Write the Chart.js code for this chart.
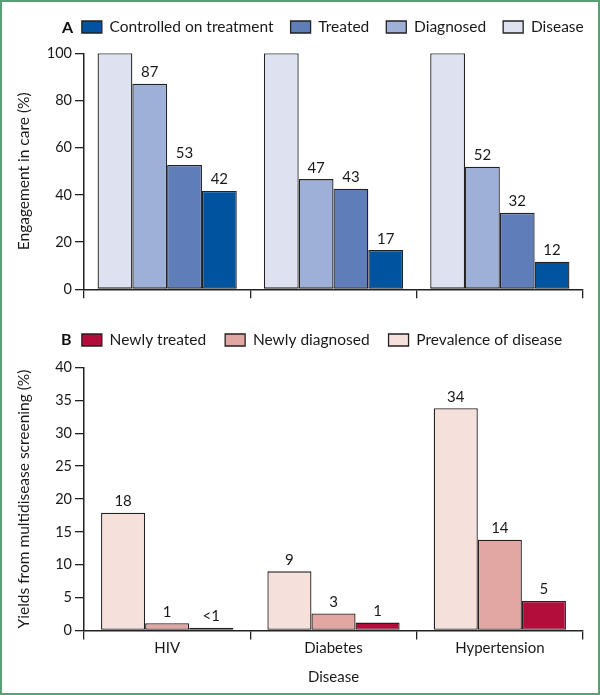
<!DOCTYPE html>
<html><head><meta charset="utf-8">
<script src="https://cdn.jsdelivr.net/npm/chart.js@4.4.1/dist/chart.umd.min.js"></script>
<style>
html,body{margin:0;padding:0;background:#fff;}
#wrap{position:relative;width:600px;height:695px;overflow:hidden;font-family:Lato,sans-serif;}
#frame{position:absolute;left:0;top:0;width:600px;height:695px;box-sizing:border-box;border:2px solid #5b9f77;pointer-events:none;z-index:5}
.panel{position:absolute;left:0;width:600px;}
#boxA{top:0;height:310px}
#boxB{top:315px;height:378px}
.letter{position:absolute;font:bold 16px Lato, sans-serif;line-height:16px;color:#111;z-index:4}
</style></head>
<body><div id="wrap">
<div class="panel" id="boxA"><canvas id="chartA" width="600" height="310"></canvas></div>
<div class="panel" id="boxB"><canvas id="chartB" width="600" height="378"></canvas></div>
<div class="letter" style="left:62px;top:19px">A</div>
<div class="letter" style="left:61px;top:331px">B</div>
<div id="frame"></div>
</div>
<script>
// Categories
const diseases = ['HIV', 'Diabetes', 'Hypertension'];

// Panel A: engagement in care (%)
const diseaseA = [100, 100, 100];
const diagnosedA = [87.1, 46.7, 51.9];
const treatedA = [52.7, 42.6, 32.4];
const controlledA = [41.7, 16.6, 11.7];
const diseaseALabels = ['', '', ''];
const diagnosedALabels = ['87', '47', '52'];
const treatedALabels = ['53', '43', '32'];
const controlledALabels = ['42', '17', '12'];
const ticksA = [0, 20, 40, 60, 80, 100];

// Panel B: yields from multidisease screening (%)
const prevalenceB = [17.9, 9.0, 33.8];
const newlyDiagnosedB = [1.1, 2.6, 13.8];
const newlyTreatedB = [0.4, 1.2, 4.5];
const prevalenceBLabels = ['18', '9', '34'];
const newlyDiagnosedBLabels = ['1', '3', '14'];
const newlyTreatedBLabels = ['<1', '1', '5'];
const ticksB = [0, 5, 10, 15, 20, 25, 30, 35, 40];

const FONT = 'Lato';
const TXT = '#1a1a1a';
const LINE = '#222';

const valueLabels = {
  id: 'valueLabels',
  afterDatasetsDraw(chart) {
    const ctx = chart.ctx;
    ctx.save();
    ctx.font = '15px ' + FONT;
    ctx.fillStyle = TXT;
    ctx.textAlign = 'center';
    ctx.textBaseline = 'alphabetic';
    chart.data.datasets.forEach((ds, di) => {
      if (!ds.valueLabels) return;
      const meta = chart.getDatasetMeta(di);
      meta.data.forEach((bar, i) => {
        const t = ds.valueLabels[i];
        if (t) ctx.fillText(t, bar.x, bar.y - 6.5);
      });
    });
    ctx.restore();
  }
};

const legendNudge = {
  id: 'legendNudge',
  afterLayout(chart, args, opts) {
    const lg = chart.legend;
    if (!lg) return;
    const dy = opts.dy || 0;
    lg.top += dy; lg.bottom += dy;
    if (opts.center !== undefined) { lg.left = 0; lg.right = 2 * opts.center; lg.width = lg.right; }
  }
};

function yScale(ticks, title, max) {
  return {
    min: 0, max: max,
    afterBuildTicks: s => { s.ticks = ticks.map(v => ({ value: v })); },
    afterFit: s => { s.width = 84; },
    grid: { drawOnChartArea: false, drawTicks: true, tickLength: 9, color: LINE, lineWidth: 1.3 },
    border: { display: true, color: LINE, width: 1.5 },
    ticks: { padding: 3, color: TXT, font: { family: FONT, size: 14.5 } },
    title: { display: true, text: title, color: TXT, font: { family: FONT, size: 15.5 }, padding: { top: 15, bottom: 0 } }
  };
}

function bar(label, data, color, labels) {
  return { label, data, backgroundColor: color, borderColor: LINE, borderWidth: 1.3, borderSkipped: false, valueLabels: labels };
}

const legendLabels = (pad) => ({ boxWidth: 20, boxHeight: 12, padding: pad, color: TXT, font: { family: FONT, size: 15.5 } });

new Chart(document.getElementById('chartA'), {
  type: 'bar',
  data: {
    labels: diseases,
    datasets: [
      bar('Disease', diseaseA, '#dee2f0', diseaseALabels),
      bar('Diagnosed', diagnosedA, '#9eb0d8', diagnosedALabels),
      bar('Treated', treatedA, '#5f7db8', treatedALabels),
      bar('Controlled on treatment', controlledA, '#00539e', controlledALabels)
    ]
  },
  options: {
    responsive: false, animation: false,
    layout: { padding: { left: 0, right: 17, top: 10.8, bottom: 11.7 } },
    datasets: { bar: { categoryPercentage: 0.837, barPercentage: 1 } },
    plugins: {
      legend: { reverse: true, labels: legendLabels(17) },
      tooltip: { enabled: false },
      legendNudge: { dy: -8.55, center: 332.8 }
    },
    scales: {
      x: {
        grid: { display: true, drawOnChartArea: false, drawTicks: true, tickLength: 9, color: LINE, lineWidth: 1.3, offset: true },
        border: { display: true, color: LINE, width: 1.5 },
        ticks: { display: false }
      },
      y: yScale(ticksA, 'Engagement in care (%)', 100)
    }
  },
  plugins: [valueLabels, legendNudge]
});

new Chart(document.getElementById('chartB'), {
  type: 'bar',
  data: {
    labels: diseases,
    datasets: [
      bar('Prevalence of disease', prevalenceB, '#f6e0dc', prevalenceBLabels),
      bar('Newly diagnosed', newlyDiagnosedB, '#e2a6a3', newlyDiagnosedBLabels),
      bar('Newly treated', newlyTreatedB, '#b30d3b', newlyTreatedBLabels)
    ]
  },
  options: {
    responsive: false, animation: false,
    layout: { padding: { left: 0, right: 17, top: 8, bottom: 3 } },
    datasets: { bar: { categoryPercentage: 0.795, barPercentage: 1 } },
    plugins: {
      legend: { reverse: true, labels: legendLabels(19) },
      tooltip: { enabled: false },
      legendNudge: { dy: -9.75, center: 322 }
    },
    scales: {
      x: {
        grid: { display: true, drawOnChartArea: false, drawTicks: true, tickLength: 9, color: LINE, lineWidth: 1.3, offset: true },
        border: { display: true, color: LINE, width: 1.5 },
        ticks: { padding: 0, color: TXT, font: { family: FONT, size: 15 } },
        title: { display: true, text: 'Disease', color: TXT, font: { family: FONT, size: 15 }, padding: { top: 10.5, bottom: 4 } }
      },
      y: yScale(ticksB, 'Yields from multidisease screening (%)', 40)
    }
  },
  plugins: [valueLabels, legendNudge]
});
</script>
</body></html>
